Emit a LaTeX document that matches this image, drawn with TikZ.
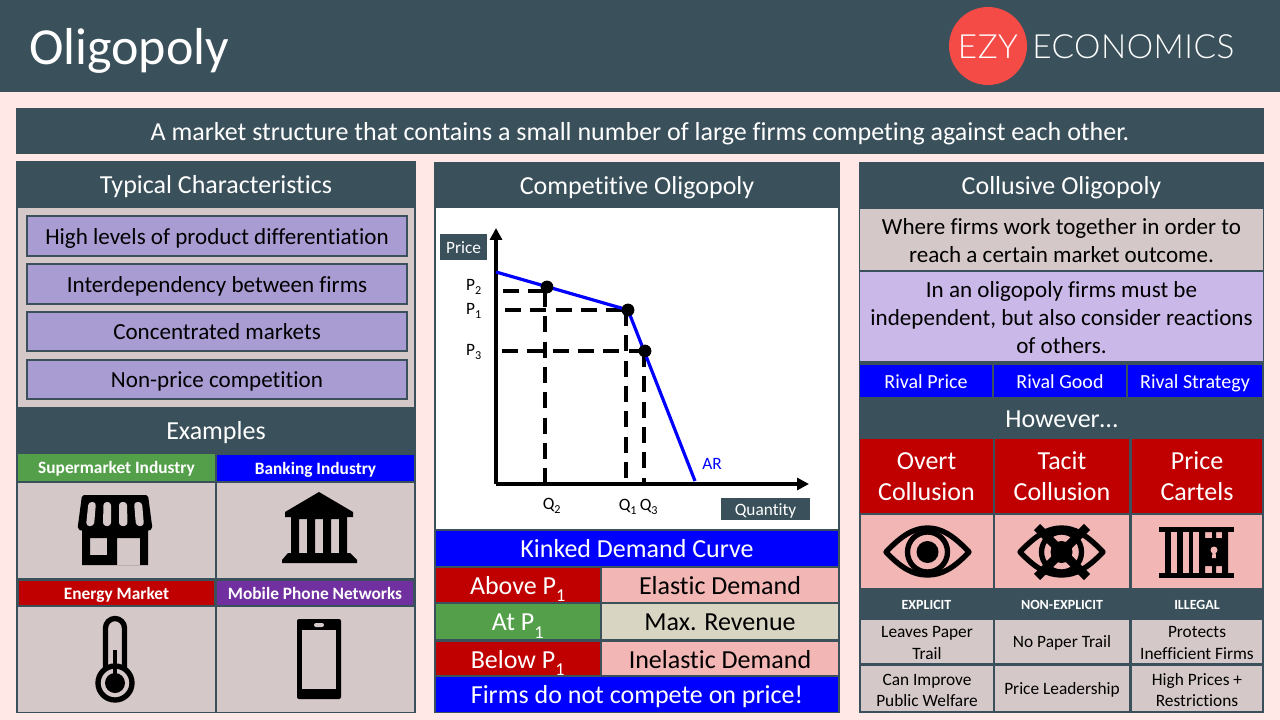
\documentclass[tikz,border=0pt]{standalone}
\usepackage{fontspec}
\setmainfont[Ligatures=CommonOff]{Carlito}
\newfontfamily\logofont[LetterSpace=1.5]{Lato Light}
\usetikzlibrary{arrows.meta}

\definecolor{slate}{HTML}{3A505B}
\definecolor{blush}{HTML}{FFE8E6}
\definecolor{stone}{HTML}{D5C8C8}
\definecolor{violet}{HTML}{A99CD3}
\definecolor{lilac}{HTML}{CAB8E8}
\definecolor{crimson}{HTML}{C00000}
\definecolor{leaf}{HTML}{54A04A}
\definecolor{royal}{HTML}{0000FF}
\definecolor{plum}{HTML}{7030A0}
\definecolor{rose}{HTML}{F2B6B5}
\definecolor{sand}{HTML}{D8D5C2}
\definecolor{logored}{HTML}{F44B46}

\def\pxu{0.75pt}
\newcommand{\pxbox}[7]{\node[pane,#2,anchor=north west,
    minimum width={(#5-#3)*\pxu},minimum height={(#6-#4)*\pxu}] (#1) at (#3,#4) {#7};}
\newcommand{\pxstack}[7]{\pxbox{#1}{#2}{#3}{#4}{#5}{#6}{}
  \node[pane,#2,fill=none,yshift=-3pt] (#1text) at (#1) {#7};}
\newcommand{\panestrut}{\rule[-0.28em]{0pt}{1.28em}}
\newcommand{\lowidx}[1]{\raisebox{-.12em}{\textsubscript{#1}}}

\tikzset{
  pane/.style={inner sep=0pt,outer sep=0pt,align=center,
    execute at begin node=\panestrut,execute at end node=\panestrut},
  huge/.style={font=\fontsize{19.5}{21}\selectfont},
  big/.style={font=\fontsize{17.3}{21}\selectfont},
  mid/.style={font=\fontsize{15}{18}\selectfont},
  small/.style={font=\fontsize{13}{16}\selectfont},
  head/.style={pane,fill=slate,text=white,huge},
  soft/.style={fill=stone,big},
  lav/.style={fill=violet,draw=slate,line width=1.3pt,big},
  tag/.style={text=white,font=\fontsize{13}{16}\bfseries\selectfont},
  deep/.style={fill=crimson,text=white,huge},
  tall/.style={fill=crimson,text=white,font=\fontsize{19.5}{23.5}\selectfont},
  sea/.style={fill=royal,text=white,huge},
  note/.style={fill=stone,small},
  caps/.style={text=white,font=\fontsize{10.5}{12}\bfseries\selectfont},
  axislabel/.style={pane,fill=slate,text=white,small},
  ticklabel/.style={pane,small},
  knot/.style={draw,black,fill,circle,inner sep=0pt,minimum size=9pt},
  guide/.style={black,line width=2.4pt,dash pattern=on 12pt off 7pt},
  curve/.style={royal,line width=2.4pt},
  axisline/.style={black,line width=2.4pt,-{Triangle[length=9pt,width=9pt]}},
  glyph/.style={black,line width=4pt,line join=round}
}

\begin{document}
\begin{tikzpicture}[x=0.75pt,y=-0.75pt]
  \useasboundingbox (0,0) rectangle (1280,720);
  \fill[blush] (0,0) rectangle (1280,720);

  % title bar
  \pxbox{titlebar}{fill=slate}{0}{0}{1280}{92}{}
  \node[pane,text=white,font=\fontsize{39}{42}\selectfont,anchor=west] (title) at (29,46) {Oligopoly};
  \node[circle,fill=logored,minimum size=58.5pt,inner sep=0pt] (logodisc) at (988,46) {};
  \node[text=white,inner sep=0pt,font=\logofont\fontsize{25}{28}\selectfont] (logoezy) at (988,47) {EZY};
  \node[text=white,inner sep=0pt,anchor=west,font=\logofont\fontsize{25}{28}\selectfont] (logoname) at (1032,47) {ECONOMICS};

  \pxbox{intro}{head}{16}{108}{1264}{154}{A market structure that contains a small number of large firms competing against each other.}

  % left column
  \pxbox{leftpanel}{fill=slate}{16}{161}{416}{713}{}
  \pxbox{typical}{head}{16}{161}{416}{208}{Typical Characteristics}
  \pxbox{traits}{fill=stone}{18}{208}{414}{407}{}
  \pxbox{traitA}{lav}{27}{216}{407}{256}{High levels of product differentiation}
  \pxbox{traitB}{lav}{27}{264}{407}{304}{Interdependency between firms}
  \pxbox{traitC}{lav}{27}{312}{407}{351}{Concentrated markets}
  \pxbox{traitD}{lav}{27}{360}{407}{399}{Non-price competition}
  \pxbox{examples}{head}{16}{407}{416}{454}{Examples}
  \pxbox{superTag}{tag,fill=leaf}{18}{454}{215}{481}{Supermarket Industry}
  \pxbox{bankTag}{tag,fill=royal}{217}{455}{414}{481}{Banking Industry}
  \pxbox{superCell}{fill=stone}{18}{483}{215}{578}{}
  \pxbox{bankCell}{fill=stone}{217}{483}{414}{578}{}
  \pxbox{energyTag}{tag,fill=crimson}{19}{581}{214}{605}{Energy Market}
  \pxbox{phoneTag}{tag,fill=plum}{217}{581}{413}{605}{Mobile Phone Networks}
  \pxbox{energyCell}{fill=stone}{18}{607}{215}{712}{}
  \pxbox{phoneCell}{fill=stone}{217}{607}{414}{712}{}

  % shop
  \fill[black,rounded corners=1.5pt] (82,495) -- (148,495) -- (152.5,529) -- (148,531) -- (82,531) -- (77.5,529) -- cycle;
  \fill[stone,rounded corners=2.5pt] (88.5,502) -- (96,502) -- (94,526) -- (86,526) -- cycle;
  \fill[stone,rounded corners=2.5pt] (103.5,502) -- (111,502) -- (111,526) -- (103,526) -- cycle;
  \fill[stone,rounded corners=2.5pt] (119,502) -- (127,502) -- (127.5,526) -- (119,526) -- cycle;
  \fill[stone,rounded corners=2.5pt] (134,502) -- (142,502) -- (144,526) -- (136,526) -- cycle;
  \fill[black,even odd rule] (82,529) rectangle (148,565) (90,538) rectangle (107,555) (117,538) rectangle (140,565);
  % bank
  \fill[black] (319,492) -- (353,512) -- (353,517) -- (285,517) -- (285,512) -- cycle;
  \fill[black,even odd rule] (291,517) rectangle (347,554) (299,519) rectangle (307,553) (315,519) rectangle (323,553) (331,519) rectangle (339,553);
  \fill[black] (288,553) -- (350,553) -- (357,560) -- (357,563) -- (282,563) -- (282,560) -- cycle;
  % thermometer
  \draw[glyph] (105.5,668) -- (105.5,628) arc (180:360:9.5) -- (124.5,668);
  \fill[stone] (115,683) circle (15);
  \draw[glyph] (115,683) circle (17);
  \fill[black] (115,683) circle (10);
  \fill[black] (113,650) rectangle (117,680);
  % phone
  \fill[black,rounded corners=1.5pt] (297,619) rectangle (341,699);
  \fill[stone] (302,630) rectangle (336,689);
  \fill[stone,rounded corners=1.5pt] (314,623) rectangle (324,627);

  % middle column
  \pxbox{midpanel}{fill=slate}{434}{162}{840}{713}{}
  \pxbox{competitive}{head}{434}{162}{840}{208}{Competitive Oligopoly}
  \pxbox{chart}{fill=white}{436}{208}{838}{529}{}
  \coordinate (orig) at (496,484);
  \coordinate (ytop) at (496,228);
  \coordinate (xend) at (809,484);
  \coordinate (arstart) at (496,272);
  \coordinate (arend) at (695,481);
  \node[knot] (dotTwo) at (547,287) {};
  \node[knot] (dotOne) at (628,310) {};
  \node[knot] (dotThree) at (645,351) {};
  \coordinate (pTwo) at (503,291);
  \coordinate (pTwoEnd) at (547,291);
  \coordinate (pOne) at (505,310);
  \coordinate (pThree) at (502,351);
  \coordinate (qTwoTop) at (545,291);
  \coordinate (qTwo) at (545,484);
  \coordinate (qOneTop) at (626,310);
  \coordinate (qOne) at (626,484);
  \coordinate (qThreeTop) at (644,351);
  \coordinate (qThree) at (644,484);
  \draw[guide] (pTwo) -- (pTwoEnd);
  \draw[guide] (pOne) -- (dotOne);
  \draw[guide] (pThree) -- (dotThree);
  \draw[guide] (qTwoTop) -- (qTwo);
  \draw[guide] (qOneTop) -- (qOne);
  \draw[guide] (qThreeTop) -- (qThree);
  \draw[axisline] (orig) -- (ytop);
  \draw[axisline] (orig) -- (xend);
  \draw[curve] (arstart) -- (dotOne.center) -- (arend);
  \node[knot] at (dotTwo) {};
  \node[knot] at (dotOne) {};
  \node[knot] at (dotThree) {};
  \pxbox{priceBox}{axislabel}{440}{234}{487}{260}{Price}
  \pxbox{qtyBox}{axislabel}{721}{498}{810}{519}{Quantity}
  \node[ticklabel] (labP2) at (474,284) {P\lowidx{2}};
  \node[ticklabel] (labP1) at (474,308) {P\lowidx{1}};
  \node[ticklabel] (labP3) at (474,349) {P\lowidx{3}};
  \node[ticklabel] (labQ2) at (552,503) {Q\lowidx{2}};
  \node[ticklabel] (labQ1) at (628,504) {Q\lowidx{1}};
  \node[ticklabel] (labQ3) at (649,504) {Q\lowidx{3}};
  \node[ticklabel,text=royal] (labAR) at (712,463) {AR};
  \pxbox{kinked}{sea}{436}{531}{838}{566}{Kinked Demand Curve}
  \pxbox{aboveL}{deep}{436}{568}{600}{602}{Above P\lowidx{1}}
  \pxbox{aboveR}{fill=rose,huge}{602}{568}{838}{602}{Elastic Demand}
  \pxbox{atL}{fill=leaf,text=white,huge}{436}{604}{600}{639}{At P\lowidx{1}}
  \pxbox{atR}{fill=sand,huge}{602}{604}{838}{639}{Max. Revenue}
  \pxbox{belowL}{deep}{436}{642}{600}{674}{Below P\lowidx{1}}
  \pxbox{belowR}{fill=rose,huge}{602}{642}{838}{674}{Inelastic Demand}
  \pxbox{nocompete}{sea}{436}{677}{838}{712}{Firms do not compete on price!}

  % right column
  \pxbox{rightpanel}{fill=slate}{859}{162}{1264}{713}{}
  \pxbox{collusive}{head}{859}{162}{1264}{208}{Collusive Oligopoly}
  \pxstack{where}{soft}{860}{209}{1263}{270}{Where firms work together in order to\\reach a certain market outcome.}
  \pxstack{inan}{fill=lilac,big}{860}{272}{1263}{361}{In an oligopoly firms must be\\independent, but also consider reactions\\of others.}
  \pxbox{rivalA}{fill=royal,text=white,mid}{860}{365}{992}{397}{Rival Price}
  \pxbox{rivalB}{fill=royal,text=white,mid}{994}{365}{1126}{397}{Rival Good}
  \pxbox{rivalC}{fill=royal,text=white,mid}{1128}{365}{1262}{397}{Rival Strategy}
  \pxbox{however}{head}{859}{398}{1264}{438}{However\ldots}
  \pxstack{overt}{tall}{860}{439}{993}{513}{Overt\\Collusion}
  \pxstack{tacit}{tall}{995}{439}{1129}{513}{Tacit\\Collusion}
  \pxstack{cartel}{tall}{1132}{439}{1262}{513}{Price\\Cartels}
  \pxbox{overtCell}{fill=rose}{861}{515}{993}{588}{}
  \pxbox{tacitCell}{fill=rose}{995}{515}{1129}{588}{}
  \pxbox{cartelCell}{fill=rose}{1132}{515}{1262}{588}{}
  \pxbox{capsA}{caps}{860}{590}{993}{618}{EXPLICIT}
  \pxbox{capsB}{caps}{995}{590}{1129}{618}{NON-EXPLICIT}
  \pxbox{capsC}{caps}{1132}{590}{1262}{618}{ILLEGAL}
  \pxstack{noteA}{note}{861}{620}{993}{663}{Leaves Paper\\Trail}
  \pxbox{noteB}{note}{995}{620}{1129}{663}{No Paper Trail}
  \pxstack{noteC}{note}{1132}{620}{1262}{663}{Protects\\Inefficient Firms}
  \pxstack{noteD}{note}{861}{666}{993}{711}{Can Improve\\Public Welfare}
  \pxbox{noteE}{note}{995}{666}{1129}{711}{Price Leadership}
  \pxstack{noteF}{note}{1132}{666}{1262}{711}{High Prices +\\Restrictions}

  % open eye
  \draw[glyph] (886,552) .. controls (902,535) and (914,528) .. (927.5,528) .. controls (941,528) and (953,535) .. (969,552)
    .. controls (953,569) and (941,575) .. (927.5,575) .. controls (914,575) and (902,569) .. (886,552) -- cycle;
  \draw[glyph] (927.5,552) circle (20);
  \fill[black] (927.5,552) circle (11);
  % crossed eye
  \draw[glyph] (1020,552) .. controls (1036,535) and (1048,528) .. (1061.5,528) .. controls (1075,528) and (1087,535) .. (1103,552)
    .. controls (1087,569) and (1075,575) .. (1061.5,575) .. controls (1048,575) and (1036,569) .. (1020,552) -- cycle;
  \draw[glyph] (1061.5,552) circle (20);
  \fill[black] (1061.5,552) circle (11);
  \draw[black,line width=6.5pt] (1037,527) -- (1087,577);
  \draw[black,line width=6.5pt] (1087,527) -- (1037,577);
  % jail
  \fill[black] (1159,527) rectangle (1234,532);
  \fill[black] (1159,573) rectangle (1234,578);
  \fill[black] (1165,532) rectangle (1171,573);
  \fill[black] (1177,532) rectangle (1183,573);
  \fill[black] (1189,532) rectangle (1193,573);
  \fill[black,even odd rule] (1199,532) rectangle (1228,573) (1205,532) rectangle (1212,538) (1216,532) rectangle (1222,538) (1205,566) rectangle (1212,573) (1216,566) rectangle (1222,573);
  \fill[rose] (1214,550) circle (3.5);
  \fill[rose] (1212.5,551) -- (1215.5,551) -- (1216,558) -- (1212,558) -- cycle;
\end{tikzpicture}
\end{document}
